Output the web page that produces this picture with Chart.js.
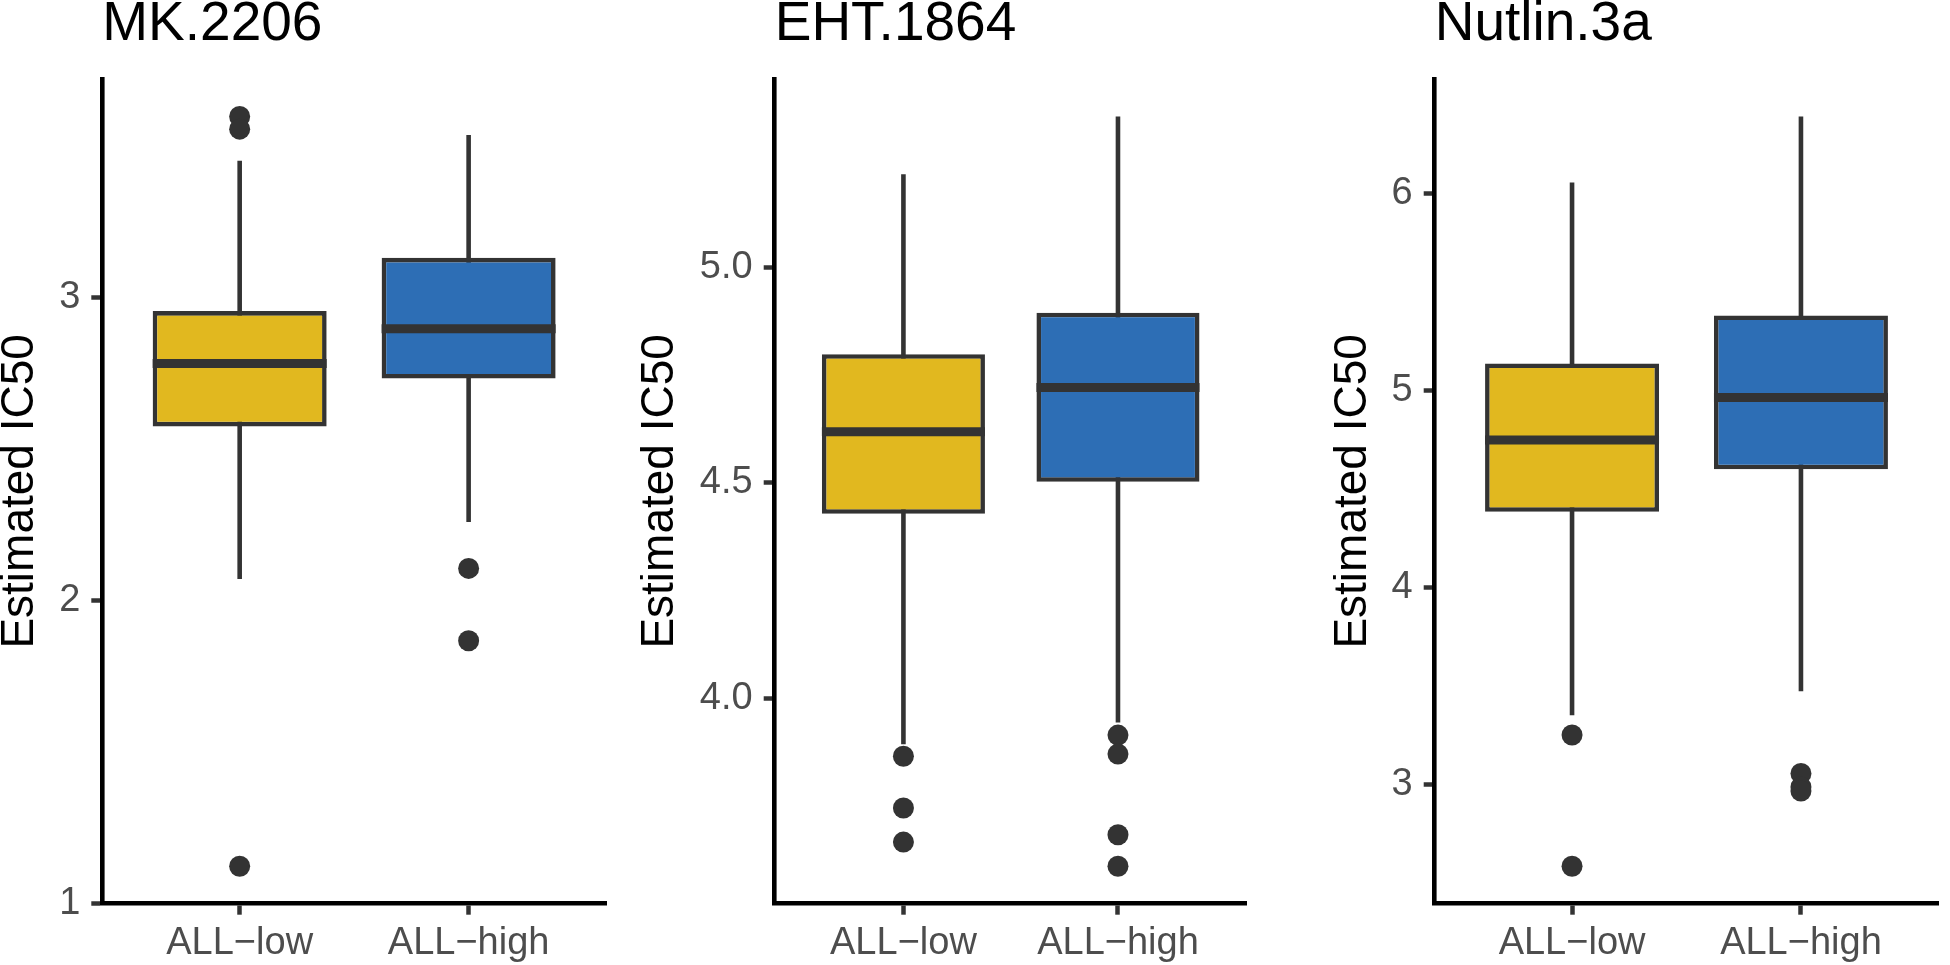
<!DOCTYPE html>
<html>
<head>
<meta charset="utf-8">
<title>Estimated IC50 by ALL group</title>
<script src="https://cdn.jsdelivr.net/npm/chart.js@4.4.1/dist/chart.umd.min.js"></script>
<style>
  html, body { margin: 0; padding: 0; background: #fff; }
  #wrap { position: relative; width: 1950px; height: 965px; overflow: hidden; }
  .panel { position: absolute; top: 0; height: 965px; }
</style>
</head>
<body>
<div id="wrap">
  <div class="panel" style="left:0;width:620px"><canvas id="mk"></canvas></div>
  <div class="panel" style="left:640px;width:620px"><canvas id="eht"></canvas></div>
  <div class="panel" style="left:1333px;width:617px"><canvas id="nut"></canvas></div>
</div>
<script>
const GROUPS = ['ALL−low', 'ALL−high'];
const FILLS = ['#E1B81F', '#2D6EB5'];

// box stats per group: lower whisker, Q1, median, Q3, upper whisker
const MK_LOW = [2.071, 2.575, 2.783, 2.956, 3.453];
const MK_HIGH = [2.259, 2.733, 2.898, 3.132, 3.538];
const MK_OUT_LOW = [3.599, 3.557, 1.122];
const MK_OUT_HIGH = [2.106, 1.867];
const MK_TICKS = [1, 2, 3];
const MK_TICK_LABELS = ['1', '2', '3'];

const EHT_LOW = [3.894, 4.428, 4.618, 4.798, 5.215];
const EHT_HIGH = [3.944, 4.502, 4.721, 4.894, 5.349];
const EHT_OUT_LOW = [3.866, 3.746, 3.667];
const EHT_OUT_HIGH = [3.915, 3.871, 3.684, 3.611];
const EHT_TICKS = [4.0, 4.5, 5.0];
const EHT_TICK_LABELS = ['4.0', '4.5', '5.0'];

const NUT_LOW = [3.350, 4.382, 4.747, 5.135, 6.054];
const NUT_HIGH = [3.471, 4.598, 4.963, 5.379, 6.389];
const NUT_OUT_LOW = [3.249, 2.583];
const NUT_OUT_HIGH = [3.054, 2.985, 2.965];
const NUT_TICKS = [3, 4, 5, 6];
const NUT_TICK_LABELS = ['3', '4', '5', '6'];

const FONT = "'Liberation Sans', Arial, Helvetica, sans-serif";
const EDGE = '#333333';
const TICK_TEXT = '#4D4D4D';
const BOX_WIDTH = 0.76;

Chart.defaults.font.family = FONT;

function drawPanel(id, title, boxes, outliers, ticks, tickLabels, yWidth, padRight) {
    // ggplot style 5% expansion around the data
    const all = boxes.flat().concat(outliers.flat());
    const lo = Math.min(...all);
    const hi = Math.max(...all);
    const expand = (hi - lo) * 0.05;

    const datasets = [];
    boxes.forEach((b, i) => {
        // median
        datasets.push({
            type: 'line', order: 0,
            data: [{x: i + 1 - BOX_WIDTH / 2, y: b[2]}, {x: i + 1 + BOX_WIDTH / 2, y: b[2]}],
            borderColor: EDGE, borderWidth: 9, pointRadius: 0
        });
        // whiskers (hidden behind the box in the middle)
        datasets.push({
            type: 'line', order: 2,
            data: [{x: i + 1, y: b[0]}, {x: i + 1, y: b[4]}],
            borderColor: EDGE, borderWidth: 4.6, pointRadius: 0
        });
    });
    datasets.push({
        type: 'bar', order: 1,
        data: boxes.map((b, i) => ({x: i + 1, y: [b[1], b[3]]})),
        backgroundColor: FILLS,
        borderColor: EDGE,
        borderWidth: 4.6,
        borderSkipped: false,
        barPercentage: BOX_WIDTH,
        categoryPercentage: 1
    });
    datasets.push({
        type: 'scatter', order: 3,
        data: outliers.flatMap((o, i) => o.map(v => ({x: i + 1, y: v}))),
        backgroundColor: EDGE, borderWidth: 0, pointRadius: 10.5
    });

    new Chart(document.getElementById(id), {
        type: 'bar',
        data: { datasets: datasets },
        options: {
            responsive: true,
            maintainAspectRatio: false,
            animation: false,
            events: [],
            layout: { padding: { left: 0, right: padRight, top: 0, bottom: 0 } },
            plugins: {
                legend: { display: false },
                tooltip: { enabled: false },
                title: {
                    display: true,
                    text: title,
                    align: 'start',
                    fullSize: false,
                    color: '#000',
                    font: { family: FONT, size: 55, weight: 'normal', lineHeight: 0.8 },
                    padding: { top: 3, bottom: 32 }
                }
            },
            scales: {
                x: {
                    type: 'linear',
                    min: 0.4,
                    max: 2.6,
                    offset: false,
                    bounds: 'data',
                    afterBuildTicks: s => { s.ticks = GROUPS.map((g, i) => ({value: i + 1})); },
                    afterFit: s => { s.height = 61.3; },
                    ticks: {
                        callback: v => GROUPS[Math.round(v) - 1],
                        color: TICK_TEXT,
                        font: { family: FONT, size: 38 },
                        padding: 6,
                        maxRotation: 0,
                        autoSkip: false
                    },
                    grid: { drawOnChartArea: false, drawTicks: true, tickLength: 11, tickWidth: 4.5, tickColor: EDGE, offset: false },
                    border: { display: true, color: '#000', width: 4.6 }
                },
                y: {
                    type: 'linear',
                    min: lo - expand,
                    max: hi + expand,
                    bounds: 'data',
                    afterBuildTicks: s => { s.ticks = ticks.map(v => ({value: v})); },
                    afterFit: s => { s.width = yWidth; },
                    ticks: {
                        callback: (v, i) => tickLabels[i],
                        color: TICK_TEXT,
                        font: { family: FONT, size: 38 },
                        padding: 11,
                        autoSkip: false
                    },
                    title: {
                        display: true,
                        text: 'Estimated IC50',
                        color: '#000',
                        font: { family: FONT, size: 46, lineHeight: 0.8 },
                        padding: { top: 1.9, bottom: 0 }
                    },
                    grid: { drawOnChartArea: false, drawTicks: true, tickLength: 11, tickWidth: 4.5, tickColor: EDGE },
                    border: { display: true, color: '#000', width: 4.6 }
                }
            }
        }
    });
}

drawPanel('mk', 'MK.2206', [MK_LOW, MK_HIGH], [MK_OUT_LOW, MK_OUT_HIGH], MK_TICKS, MK_TICK_LABELS, 102.3, 14);
drawPanel('eht', 'EHT.1864', [EHT_LOW, EHT_HIGH], [EHT_OUT_LOW, EHT_OUT_HIGH], EHT_TICKS, EHT_TICK_LABELS, 134.7, 13.3);
drawPanel('nut', 'Nutlin.3a', [NUT_LOW, NUT_HIGH], [NUT_OUT_LOW, NUT_OUT_HIGH], NUT_TICKS, NUT_TICK_LABELS, 101.7, 11.7);
</script>
</body>
</html>
